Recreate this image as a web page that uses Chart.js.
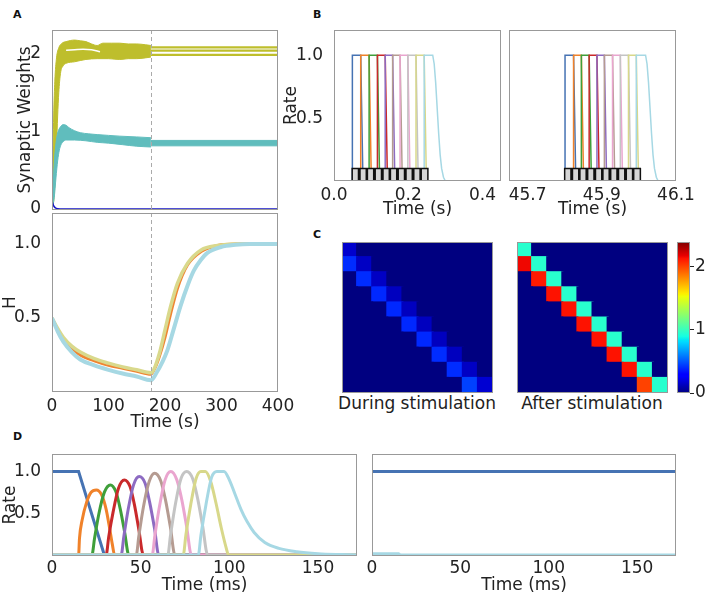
<!DOCTYPE html>
<html>
<head>
<meta charset="utf-8">
<script src="https://cdn.jsdelivr.net/npm/chart.js@4.4.1/dist/chart.umd.min.js"></script>
<style>
  body { margin: 0; background: #fff; width: 708px; height: 598px; position: relative; overflow: hidden; }
  canvas { position: absolute; }
  .panel { position: absolute; font: bold 11px 'DejaVu Sans', sans-serif; line-height: 11px; color: #111; }
  .cap { position: absolute; width: 200px; text-align: center; white-space: nowrap;
         font: 17px 'DejaVu Sans', sans-serif; line-height: 20px; color: #222; }
</style>
</head>
<body>
<div class="panel" style="left:13px;top:9px">A</div>
<div class="panel" style="left:313px;top:9px">B</div>
<div class="panel" style="left:313px;top:229px">C</div>
<div class="panel" style="left:13px;top:431px">D</div>
<div class="cap" style="left:317px;top:393px">During stimulation</div>
<div class="cap" style="left:492px;top:393px">After stimulation</div>

<script>
// ---------- data ----------

const switchTime = 175          // stimulation stops here (s)

// A, top: synaptic weights, [time s, weight]
const yellowUpper = [[0,0],[1,0.4],[3,1.2],[5,1.65],[8,1.95],[12,2.08],[18,2.14],[25,2.16],[40,2.18],[50,2.17],[60,2.16],[70,2.13],[80,2.11],[90,2.14],[105,2.14],[120,2.14],[135,2.13],[150,2.13],[165,2.12],[175,2.11]]
const yellowLower = [[0,0],[3,0.1],[5,0.3],[8,0.8],[10,1.2],[12,1.5],[15,1.75],[20,1.85],[25,1.88],[40,1.9],[60,1.93],[80,1.94],[100,1.94],[120,1.93],[135,1.94],[150,1.94],[165,1.95],[175,1.96]]
const yellowGap = [[25,2.05],[40,2.055],[55,2.06],[70,2.055],[85,2.03]]
const yellowLevels = [2.085, 2.045, 1.99]
const tealUpper = [[0,0],[2,0.3],[4,0.6],[7,0.85],[10,0.98],[15,1.06],[20,1.09],[25,1.08],[30,1.05],[40,1.01],[50,0.985],[65,0.97],[80,0.96],[100,0.95],[120,0.94],[150,0.93],[175,0.92]]
const tealLower = [[0,0],[4,0.15],[7,0.4],[10,0.62],[13,0.76],[16,0.83],[20,0.87],[25,0.89],[40,0.89],[60,0.88],[80,0.86],[100,0.85],[125,0.83],[150,0.81],[175,0.8]]
const tealLevels = [0.885, 0.815]
const blueWeight = [[0,0.11],[1,0.08],[3,0.04],[6,0.015],[10,0.004],[20,0],[400,0]]
const weightTicks = [0, 1, 2]

// A, bottom: H, [time s, H]
const hCyan = [[0,0.5],[10,0.41],[20,0.34],[35,0.27],[50,0.22],[75,0.18],[100,0.15],[125,0.125],[150,0.105],[175,0.08],[185,0.13],[195,0.2],[204,0.28],[215,0.42],[227,0.576],[240,0.72],[251,0.82],[263,0.89],[275,0.94],[299,0.98],[325,0.995],[350,1],[400,1]]
const hOrange = [[0,0.5],[10,0.42],[20,0.36],[35,0.295],[50,0.25],[75,0.21],[100,0.18],[125,0.16],[150,0.14],[175,0.12],[182,0.16],[190,0.24],[200,0.37],[210,0.53],[222,0.7],[240,0.86],[264,0.95],[293,0.99],[325,1],[400,1]]
const hYellow = [[0,0.5],[10,0.43],[20,0.37],[35,0.31],[50,0.27],[75,0.225],[100,0.195],[125,0.17],[150,0.15],[175,0.13],[180,0.15],[190,0.26],[200,0.42],[210,0.58],[222,0.735],[240,0.87],[264,0.96],[293,0.99],[325,1],[400,1]]
const hTicks = [0.5, 1]
const secTicks = [0, 100, 200, 300, 400]

// B: rates during a sequence, left = start of training, right = late
const pulseOnL = [0.0495, 0.072, 0.0946, 0.117, 0.138, 0.158, 0.178, 0.199, 0.221, 0.243]
const pulseTopL = [0.072, 0.0946, 0.117, 0.138, 0.158, 0.178, 0.199, 0.221, 0.243]
const pulseZeroL = [0.078, 0.1006, 0.123, 0.144, 0.164, 0.184, 0.205, 0.227, 0.249]
const tailL = [[0.266,1],[0.27,0.93],[0.274,0.78],[0.278,0.58],[0.282,0.38],[0.286,0.21],[0.29,0.1],[0.295,0.03],[0.3,0]]
const humpOnL = [0.049, 0.070, 0.090, 0.111, 0.132, 0.152, 0.173, 0.194, 0.215, 0.235]
const humpOffL = [0.066, 0.087, 0.107, 0.128, 0.149, 0.169, 0.190, 0.211, 0.232, 0.253]
const pulseOnR = [45.801, 45.824, 45.845, 45.866, 45.887, 45.907, 45.929, 45.950, 45.972, 45.993]
const pulseTopR = [45.824, 45.845, 45.866, 45.887, 45.907, 45.929, 45.950, 45.972, 45.993]
const pulseZeroR = [45.830, 45.851, 45.872, 45.893, 45.913, 45.935, 45.956, 45.978, 45.999]
const tailR = [[46.018,1],[46.022,0.93],[46.026,0.78],[46.03,0.58],[46.034,0.38],[46.038,0.21],[46.042,0.1],[46.047,0.03],[46.052,0]]
const humpOnR = [45.800, 45.821, 45.841, 45.862, 45.883, 45.903, 45.924, 45.945, 45.966, 45.986]
const humpOffR = [45.817, 45.838, 45.858, 45.879, 45.900, 45.920, 45.941, 45.962, 45.983, 46.004]
const humpHeight = 0.1
const bTicksL = [0, 0.2, 0.4]
const bTicksR = [45.7, 45.9, 46.1]
const rateTicks = [0.5, 1]

// C: weight matrices (diagonal and the one below it, rest is 0)
const vmax = 2.38
const duringDiag = [0.16, 0.14, 0.14, 0.13, 0.13, 0.13, 0.13, 0.13, 0.14, 0.17]
const duringSub = [0.40, 0.40, 0.39, 0.39, 0.39, 0.39, 0.40, 0.40, 0.45]
const afterDiag = [0.95, 0.95, 0.95, 0.95, 0.95, 0.95, 0.95, 0.95, 0.95, 0.95]
const afterSub = [2.15, 2.1, 2.12, 2.12, 2.12, 2.12, 2.12, 2.12, 2.0]
const cbTicks = [0, 1, 2]

// D: recall, [time ms, rate]
const dBlue = [[0,1],[15,1],[29.5,0],[172,0]]
const dOrange = [[0,0],[15,0],[15.5,0.2],[17,0.42],[19.5,0.63],[22,0.75],[25,0.78],[28,0.72],[30.5,0.55],[32.5,0.32],[34,0.13],[35.3,0],[172,0]]
const dGreen = [[0,0],[22.5,0],[24,0.2],[26.5,0.5],[29.5,0.75],[32.9,0.84],[36,0.76],[38.5,0.55],[41,0.27],[43.3,0],[172,0]]
const dRed = [[0,0],[30.5,0],[32,0.22],[34.5,0.52],[37.5,0.8],[40.8,0.9],[44,0.82],[46.5,0.6],[49,0.3],[51.5,0],[172,0]]
const dPurple = [[0,0],[39,0],[40.5,0.22],[43,0.55],[46,0.84],[49.2,0.94],[52.5,0.86],[55,0.64],[57.8,0.32],[60.2,0],[172,0]]
const dBrown = [[0,0],[47.5,0],[49,0.23],[51.5,0.57],[54.8,0.88],[57.9,0.98],[61.3,0.89],[64,0.66],[66.8,0.33],[69.3,0],[172,0]]
const dPink = [[0,0],[56.5,0],[58,0.23],[60.6,0.58],[63.8,0.9],[67,1],[70.4,0.9],[73.2,0.66],[76,0.33],[78.6,0],[172,0]]
const dGray = [[0,0],[65.3,0],[66.8,0.23],[69.5,0.6],[72.8,0.92],[76,1],[79.4,0.91],[82.2,0.67],[85,0.34],[87.8,0],[172,0]]
const dOlive = [[0,0],[74,0],[75.5,0.24],[78.2,0.6],[81.3,0.92],[84,1],[86.5,1],[89.5,0.88],[92.5,0.62],[95.5,0.32],[98.3,0.08],[99.5,0],[172,0]]
const dCyan = [[0,0],[82.5,0],[84,0.24],[86.8,0.6],[90,0.93],[93,1],[97,1],[100,0.9],[103,0.74],[106.5,0.55],[110,0.4],[114,0.27],[120,0.15],[128,0.08],[138,0.04],[150,0.016],[163,0.005],[172,0]]
const dBlueAfter = [[0,1],[172,1]]
const dCyanAfter = [[0,0.015],[15,0.015],[16,0],[172,0]]
const msTicks = [0, 50, 100, 150]

const neuronColors = ['#4673b3', '#f0822a', '#3f9f3a', '#c9292b', '#8d6bc2', '#b59b91', '#eaa5cf', '#c4c4c4', '#d8d88a', '#a6d8e4']

// ---------- helpers ----------

const frame = {
    id: 'frame',
    afterDraw(chart) {
        const { ctx, chartArea: a } = chart
        ctx.save()
        ctx.strokeStyle = '#999'
        ctx.lineWidth = 1
        ctx.strokeRect(a.left + 0.5, a.top + 0.5, a.right - a.left - 1, a.bottom - a.top - 1)
        ctx.restore()
    }
}
Chart.register(frame)

const vline = {
    id: 'vline',
    afterDatasetsDraw(chart) {
        const { ctx, chartArea: a } = chart
        const x = Math.round(chart.scales.x.getPixelForValue(switchTime)) + 0.5
        ctx.save()
        ctx.strokeStyle = '#aaa'
        ctx.lineWidth = 1
        ctx.setLineDash([4, 3])
        ctx.beginPath()
        ctx.moveTo(x, a.top)
        ctx.lineTo(x, a.bottom)
        ctx.stroke()
        ctx.restore()
    }
}

Chart.defaults.font.family = "'DejaVu Sans', sans-serif"
Chart.defaults.font.size = 17
Chart.defaults.color = '#222'

const f0 = v => String(v)
const f1 = v => v.toFixed(1)

// canvas that leaves margins m around the plot box
const place = (box, m) => {
    const c = document.createElement('canvas')
    const w = m.l + box.w + m.r, h = m.t + box.h + m.b
    c.width = w
    c.height = h
    c.style.left = (box.x - m.l) + 'px'
    c.style.top = (box.y - m.t) + 'px'
    c.style.width = w + 'px'
    c.style.height = h + 'px'
    document.body.appendChild(c)
    return c
}

const axis = (kind, min, max, ticks, fmt, show, title, size, pad) => ({
    type: 'linear', min, max,
    grid: { display: false }, border: { display: false },
    ticks: { display: show, padding: pad, autoSkip: false, maxRotation: 0, callback: v => fmt(v) },
    afterBuildTicks: s => { s.ticks = ticks.map(v => ({ value: v })) },
    title: { display: !!title, text: title || '', padding: 0 },
    afterFit: s => {
        if (kind === 'x') { s.height = size; s.paddingLeft = 0; s.paddingRight = 0 }
        else { s.width = size; s.paddingTop = 0; s.paddingBottom = 0 }
    }
})

const line = (pts, color, width, extra) => Object.assign({
    data: pts.map(([x, y]) => ({ x, y })),
    borderColor: color, backgroundColor: color, borderWidth: width,
    pointRadius: 0, tension: 0, fill: false
}, extra || {})

const smooth = { cubicInterpolationMode: 'monotone' }

const lineChart = (box, m, datasets, x, y, plugins) => {
    datasets.forEach((d, i) => { d.order = -i })   // later series on top
    return new Chart(place(box, m), {
        type: 'line',
        data: { datasets },
        options: {
            responsive: false, animation: false, devicePixelRatio: 1,
            layout: { padding: { top: m.t, right: m.r, left: 0, bottom: 0 } },
            plugins: { legend: { display: false }, tooltip: { enabled: false } },
            scales: { x, y }
        },
        plugins: plugins || []
    })
}

// matplotlib jet
const jetR = [[0,0],[0.35,0],[0.66,1],[0.89,1],[1,0.5]]
const jetG = [[0,0],[0.125,0],[0.375,1],[0.64,1],[0.91,0],[1,0]]
const jetB = [[0,0.5],[0.11,1],[0.34,1],[0.65,0],[1,0]]
const seg = (s, x) => {
    for (let i = 1; i < s.length; i++) {
        if (x <= s[i][0]) {
            const [x0, y0] = s[i - 1], [x1, y1] = s[i]
            return y0 + (y1 - y0) * (x - x0) / (x1 - x0)
        }
    }
    return s[s.length - 1][1]
}
const jetAt = x => `rgb(${Math.round(255 * seg(jetR, x))},${Math.round(255 * seg(jetG, x))},${Math.round(255 * seg(jetB, x))})`
const jet = v => jetAt(Math.min(1, Math.max(0, v / vmax)))

const buildMatrix = (diag, sub) => diag.map((d, r) => diag.map((_, c) => c === r ? d : (c === r - 1 ? sub[c] : 0)))

const heatmap = (box, matrix) => {
    const rows = matrix.map(row => ({
        data: row.map(() => 1),
        backgroundColor: row.map(jet),
        borderWidth: 0, barPercentage: 1, categoryPercentage: 1, inflateAmount: 1
    })).reverse()                           // first row sits on top
    new Chart(place(box, { l: 1, t: 1, r: 1, b: 1 }), {
        type: 'bar',
        data: { labels: matrix[0].map((_, i) => String(i)), datasets: rows },
        options: {
            responsive: false, animation: false, devicePixelRatio: 1,
            layout: { padding: 1 },
            plugins: { legend: { display: false }, tooltip: { enabled: false } },
            scales: {
                x: { display: false, stacked: true },
                y: { display: false, stacked: true, min: 0, max: matrix.length }
            }
        }
    })
}

// ---------- A ----------

const aTop = [
    line(yellowUpper, '#bebe2c', 1, Object.assign({ fill: '+1', backgroundColor: '#bebe2c' }, smooth)),
    line(yellowLower, '#bebe2c', 1, smooth),
    line(yellowGap, '#ffffff', 1.5, smooth),
    ...yellowLevels.map(v => line([[switchTime, v], [400, v]], '#bebe2c', 2.2)),
    line(tealUpper, '#60bdbd', 1, Object.assign({ fill: '+1', backgroundColor: '#60bdbd' }, smooth)),
    line(tealLower, '#60bdbd', 1, smooth),
    line([[switchTime, tealLevels[0]], [400, tealLevels[0]]], '#60bdbd', 1, { fill: '+1', backgroundColor: '#60bdbd' }),
    line([[switchTime, tealLevels[1]], [400, tealLevels[1]]], '#60bdbd', 1),
    line(blueWeight, '#1616c8', 1.5, smooth)
]
lineChart({ x: 52, y: 30, w: 226, h: 180 }, { l: 37, t: 2, r: 4, b: 4 }, aTop,
    axis('x', 0, 400, secTicks, f0, false, '', 4, 3),
    axis('y', -0.013, 2.31, weightTicks, f0, true, 'Synaptic Weights', 37, 3),
    [vline])

const aBottom = [
    line(hOrange, '#ef8532', 3, smooth),
    line(hYellow, '#d9d98c', 3.5, smooth),
    line(hCyan, '#a6d8e3', 4, smooth)
]
lineChart({ x: 52, y: 213, w: 226, h: 179 }, { l: 52, t: 2, r: 16, b: 41 }, aBottom,
    axis('x', 0, 400, secTicks, f0, true, 'Time (s)', 41, -4),
    axis('y', 0, 1.21, hTicks, f1, true, 'H', 52, 3),
    [vline])

// ---------- B ----------

const humps = (on, off, lo, hi) => {
    const p = [[lo, 0]]
    on.forEach((t, i) => p.push([t, 0], [t, humpHeight], [off[i], humpHeight], [off[i], 0]))
    p.push([hi, 0])
    return p
}
const pulses = (on, top, zero, tail, lo, hi) => on.map((t, i) => {
    const pts = i < top.length
        ? [[lo, 0], [t, 0], [t, 1], [top[i], 1], [zero[i], 0], [hi, 0]]
        : [[lo, 0], [t, 0], [t, 1], ...tail, [hi, 0]]
    return line(pts, neuronColors[i], 1.5)
})

lineChart({ x: 334, y: 30, w: 167, h: 151 }, { l: 53, t: 2, r: 6, b: 39 },
    [...pulses(pulseOnL, pulseTopL, pulseZeroL, tailL, 0, 0.45),
     line(humps(humpOnL, humpOffL, 0.045, 0.26), '#111', 1.5, { fill: 'origin', backgroundColor: '#d6d6d6' })],
    axis('x', 0, 0.45, bTicksL, f1, true, 'Time (s)', 39, -4),
    axis('y', 0, 1.2, rateTicks, f1, true, 'Rate', 53, 3))

lineChart({ x: 509, y: 30, w: 167, h: 151 }, { l: 6, t: 2, r: 18, b: 39 },
    [...pulses(pulseOnR, pulseTopR, pulseZeroR, tailR, 45.65, 46.1),
     line(humps(humpOnR, humpOffR, 45.796, 46.01), '#111', 1.5, { fill: 'origin', backgroundColor: '#d6d6d6' })],
    axis('x', 45.65, 46.1, bTicksR, f1, true, 'Time (s)', 39, -4),
    axis('y', 0, 1.2, rateTicks, f1, false, '', 6, 3))

// ---------- C ----------

heatmap({ x: 342, y: 242, w: 151, h: 151 }, buildMatrix(duringDiag, duringSub))
heatmap({ x: 517, y: 242, w: 151, h: 151 }, buildMatrix(afterDiag, afterSub))

const jetStops = [0, 0.11, 0.125, 0.34, 0.35, 0.375, 0.64, 0.65, 0.66, 0.89, 0.91, 1]
new Chart(place({ x: 677, y: 242, w: 13, h: 151 }, { l: 1, t: 2, r: 30, b: 10 }), {
    type: 'bar',
    data: {
        labels: [''],
        datasets: [{
            data: [[0, vmax]],
            borderWidth: 0, barPercentage: 1, categoryPercentage: 1,
            backgroundColor: ctx => {
                const a = ctx.chart.chartArea
                if (!a) return '#000080'
                const g = ctx.chart.ctx.createLinearGradient(0, a.bottom, 0, a.top)
                jetStops.forEach(s => g.addColorStop(s, jetAt(s)))
                return g
            }
        }]
    },
    options: {
        responsive: false, animation: false, devicePixelRatio: 1,
        layout: { padding: { left: 1, top: 2, bottom: 10, right: 0 } },
        plugins: { legend: { display: false }, tooltip: { enabled: false } },
        scales: {
            x: { display: false },
            y: {
                position: 'right', min: 0, max: vmax,
                border: { display: false },
                grid: { display: true, drawOnChartArea: false, drawTicks: true, tickLength: 4, tickColor: '#222' },
                ticks: { padding: 1, autoSkip: false, callback: v => f0(v) },
                afterBuildTicks: s => { s.ticks = cbTicks.map(v => ({ value: v })) },
                afterFit: s => { s.width = 30; s.paddingTop = 0; s.paddingBottom = 0 }
            }
        }
    }
})

// ---------- D ----------

const dCurves = [dBlue, dOrange, dGreen, dRed, dPurple, dBrown, dPink, dGray, dOlive, dCyan]
lineChart({ x: 52, y: 454, w: 305, h: 102 }, { l: 52, t: 2, r: 8, b: 40 },
    dCurves.map((pts, i) => line(pts, neuronColors[i], 3, i === 0 ? {} : smooth)),
    axis('x', 0, 172, msTicks, f0, true, 'Time (ms)', 40, -6),
    axis('y', -0.012, 1.21, rateTicks, f1, true, 'Rate', 52, 3))

lineChart({ x: 372, y: 454, w: 304, h: 102 }, { l: 6, t: 2, r: 16, b: 40 },
    [line(dBlueAfter, neuronColors[0], 3), line(dCyanAfter, neuronColors[9], 3)],
    axis('x', 0, 172, msTicks, f0, true, 'Time (ms)', 40, -6),
    axis('y', -0.012, 1.21, rateTicks, f1, false, '', 6, 3))
</script>
</body>
</html>
